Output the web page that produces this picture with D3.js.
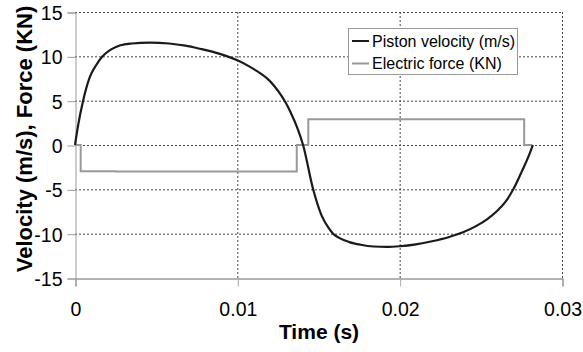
<!doctype html>
<html lang="en">
<head>
    <meta charset="utf-8">
    <title>Piston velocity and electric force</title>
    <script src="https://d3js.org/d3.v7.min.js"></script>
    <style type="text/css">
        body { margin: 0; background: #fff; }
        text { font-family: "Liberation Sans", Arial, sans-serif; fill: #000; }
    </style>
</head>

<body>
</body>

<script type="text/javascript">

    var width  = 583;
    var height = 352;

    // data: time (s), value
    var velocityT = [0, 0.0002, 0.0005, 0.0009, 0.0013, 0.0017, 0.0022, 0.0028, 0.0035, 0.0046,
                     0.0058, 0.0068, 0.0077, 0.0086, 0.0093, 0.0100, 0.0107, 0.0114, 0.0119, 0.0123,
                     0.0127, 0.0130, 0.01325, 0.01374, 0.01405, 0.01467, 0.0152, 0.0156, 0.0159, 0.0163,
                     0.0169, 0.0176, 0.0184, 0.0192, 0.0200, 0.0210, 0.0220, 0.0230, 0.0239, 0.0247,
                     0.0254, 0.0260, 0.0265, 0.0270, 0.02752, 0.0280, 0.0282];
    var velocityV = [0, 2.3, 5.0, 7.6, 9.0, 10.0, 10.75, 11.25, 11.45, 11.55,
                     11.45, 11.2, 10.85, 10.45, 10.05, 9.55, 8.9, 8.1, 7.4, 6.6,
                     5.6, 4.7, 3.8, 1.7, 0, -5.0, -8.0, -9.3, -10.0, -10.5,
                     -10.95, -11.25, -11.45, -11.5, -11.42, -11.2, -10.85, -10.4, -9.85, -9.15,
                     -8.35, -7.45, -6.45, -5.0, -3.0, -1.0, 0];

    var forceT = [0, 0.00035, 0.00035, 0.0025, 0.0025, 0.01366, 0.01366, 0.01437, 0.01437, 0.02767, 0.02767, 0.02816];
    var forceV = [0, 0, -2.95, -2.95, -3.0, -3.0, 0, 0, 2.9, 2.9, 0, 0];

    var xTicks = [0, 0.01, 0.02, 0.03];
    var yTicks = [-15, -10, -5, 0, 5, 10, 15];
    var seriesNames = ["Piston velocity (m/s)", "Electric force (KN)"];
    var seriesColors = ["#1a1a1a", "#999999"];

    var plotLeft = 75, plotRight = 562, plotTop = 12, plotBottom = 278;

    var x = d3.scaleLinear().domain([0, 0.03]).range([plotLeft, plotRight]);
    var y = d3.scaleLinear().domain([-15, 15]).range([plotBottom, plotTop]);

    var svg = d3.select("body")
        .append("svg")
        .attr("width", width)
        .attr("height", height)
        .style("background", "#fff");

    // dotted grid (also frames the top and right)
    svg.append("g").selectAll("line")
        .data(yTicks.filter(d => d > -15))
        .enter().append("line")
        .attr("x1", plotLeft).attr("x2", plotRight)
        .attr("y1", d => y(d) + 0.5).attr("y2", d => y(d) + 0.5)
        .attr("stroke", "#444").attr("stroke-dasharray", "2,2");

    svg.append("g").selectAll("line")
        .data(xTicks.filter(d => d > 0))
        .enter().append("line")
        .attr("x1", d => x(d) + 0.5).attr("x2", d => x(d) + 0.5)
        .attr("y1", plotTop).attr("y2", plotBottom)
        .attr("stroke", "#444").attr("stroke-dasharray", "2,2");

    // axes
    var yAxis = d3.axisLeft(y).tickValues(yTicks).tickSize(8).tickPadding(5).tickFormat(d => String(d));
    var gy = svg.append("g").attr("transform", "translate(" + (plotLeft + 0.5) + ",0.5)").call(yAxis);
    gy.select(".domain").attr("stroke", "#999");
    gy.selectAll(".tick line").attr("stroke", "#999");
    gy.selectAll("text").style("font-size", "19.5px").attr("dy", "0.36em");

    var xAxis = d3.axisBottom(x).tickValues(xTicks).tickSize(8).tickPadding(16)
        .tickFormat(d => d === 0 ? "0" : d3.format(".2f")(d));
    var gx = svg.append("g").attr("transform", "translate(0.5," + (plotBottom + 0.5) + ")").call(xAxis);
    gx.select(".domain").attr("stroke", "#666");
    gx.selectAll(".tick line").attr("stroke", "#aaa");
    gx.selectAll("text").style("font-size", "19.5px");

    // series
    var velocity = velocityT.map((t, i) => [t, velocityV[i]]);
    var force = forceT.map((t, i) => [t, forceV[i]]);

    svg.append("path")
        .datum(force)
        .attr("d", d3.line().x(d => x(d[0])).y(d => y(d[1])))
        .attr("fill", "none")
        .attr("stroke", seriesColors[1])
        .attr("stroke-width", 2);

    svg.append("path")
        .datum(velocity)
        .attr("d", d3.line().curve(d3.curveMonotoneX).x(d => x(d[0])).y(d => y(d[1])))
        .attr("fill", "none")
        .attr("stroke", seriesColors[0])
        .attr("stroke-width", 2.2);

    // axis titles
    svg.append("text")
        .attr("x", 319).attr("y", 339)
        .attr("text-anchor", "middle")
        .style("font-size", "21px").style("font-weight", "bold")
        .text("Time (s)");

    svg.append("text")
        .attr("transform", "translate(32,139) rotate(-90)")
        .attr("text-anchor", "middle")
        .style("font-size", "22px").style("font-weight", "bold")
        .text("Velocity (m/s), Force (KN)");

    // legend
    var lg = svg.append("g").attr("transform", "translate(348,28)");
    lg.append("rect")
        .attr("x", 0.5).attr("y", 0.5)
        .attr("width", 169).attr("height", 46)
        .attr("fill", "#fff").attr("stroke", "#999");
    var item = lg.selectAll(".item")
        .data(seriesNames)
        .enter().append("g")
        .attr("transform", (d, i) => "translate(0," + (13 + i * 22.5) + ")");
    item.append("line")
        .attr("x1", 4).attr("x2", 21)
        .attr("stroke", (d, i) => seriesColors[i])
        .attr("stroke-width", 2);
    item.append("text")
        .attr("x", 24).attr("dy", "0.35em")
        .style("font-size", "16px")
        .text(d => d);

</script>

</html>
